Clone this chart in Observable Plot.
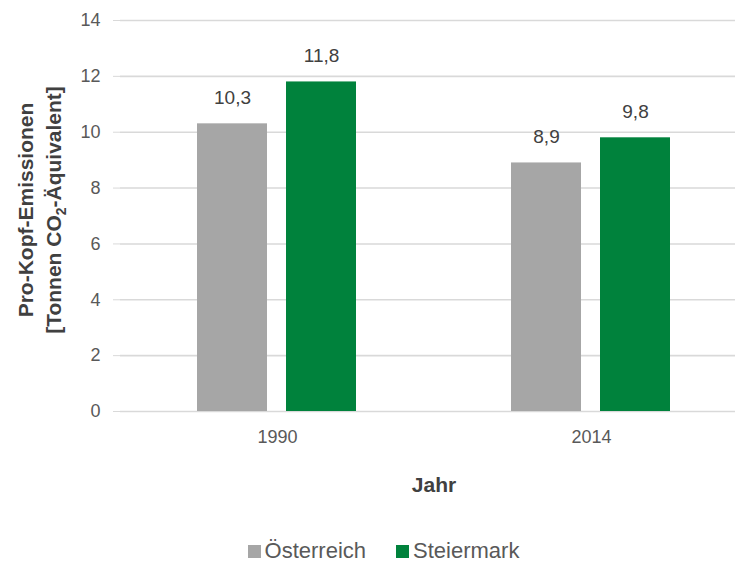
<!DOCTYPE html>
<html><head><meta charset="utf-8">
<script src="https://cdn.jsdelivr.net/npm/d3@7"></script>
<script src="https://cdn.jsdelivr.net/npm/@observablehq/plot@0.6"></script>
<style>
body{margin:0;background:#fff;font-family:"Liberation Sans",Arial,sans-serif;}
#legend{display:flex;justify-content:center;align-items:center;gap:30px;font-size:22px;color:#595959;margin-top:23px;padding-left:32px;}
#legend span.sw{display:inline-block;width:13px;height:13px;margin-right:4px;}
#legend .item{display:flex;align-items:center;}
</style></head><body>
<div id="chart"></div><div id="legend"></div>
<script>
const years = ["1990", "2014"];
const series = ["Österreich", "Steiermark"];
const oesterreich = [10.3, 8.9];
const steiermark = [11.8, 9.8];
const yTicks = [0, 2, 4, 6, 8, 10, 12, 14];
const colors = ["#a6a6a6", "#00823c"];

const data = years.flatMap((y, i) => [
  {year: y, series: series[0], value: oesterreich[i]},
  {year: y, series: series[1], value: steiermark[i]}
]);

const plot = Plot.plot({
  width: 735, height: 515,
  marginLeft: 120, marginRight: 0, marginTop: 20, marginBottom: 104,
  style: {fontFamily: '"Liberation Sans", Arial, sans-serif', fontSize: "18px", color: "#595959", background: "#fff"},
  fx: {domain: years, range: [120, 748], padding: 0, label: null},
  x: {domain: series, axis: null, paddingInner: 0.213, paddingOuter: 0.87},
  y: {domain: [0, 14]},
  color: {domain: series, range: colors},
  marks: [
    Plot.gridY(yTicks, {stroke: "#d9d9d9", strokeOpacity: 1, strokeWidth: 1.6}),
    Plot.axisY(yTicks, {tickSize: 7, tickPadding: 13, stroke: "#d9d9d9", fill: "#595959", label: null, fontSize: 18}),
    Plot.barY(data, {fx: "year", x: "series", y: "value", fill: "series"}),
    Plot.text(data, {fx: "year", x: "series", y: "value",
      text: d => d.value.toFixed(1).replace(".", ","),
      lineAnchor: "bottom", dy: -20, fontSize: 19, fill: "#404040"}),
    Plot.axisFx({anchor: "bottom", tickSize: 0, tickPadding: 19, fontSize: 18, fill: "#595959", label: null})
  ]
});

document.getElementById("chart").appendChild(plot);
const svg = d3.select(plot);

svg.append("text")
  .attr("x", 434).attr("y", 492)
  .attr("text-anchor", "middle")
  .attr("font-weight", "bold").attr("font-size", 21).attr("fill", "#404040")
  .text("Jahr");

const yl = svg.append("g").attr("transform", "translate(0,210) rotate(-90)")
  .attr("font-weight", "bold").attr("font-size", 21).attr("fill", "#404040")
  .attr("text-anchor", "middle");
yl.append("text").attr("x", 0).attr("y", 33).text("Pro-Kopf-Emissionen");
const t2 = yl.append("text").attr("x", 0).attr("y", 61);
t2.append("tspan").text("[Tonnen CO");
t2.append("tspan").attr("dy", 5).attr("font-size", 14).text("2");
t2.append("tspan").attr("dy", -5).text("-Äquivalent]");

const lg = d3.select("#legend");
series.forEach((s, i) => {
  const it = lg.append("div").attr("class", "item");
  it.append("span").attr("class", "sw").style("background", colors[i]);
  it.append("span").text(s);
});
</script>
</body></html>
